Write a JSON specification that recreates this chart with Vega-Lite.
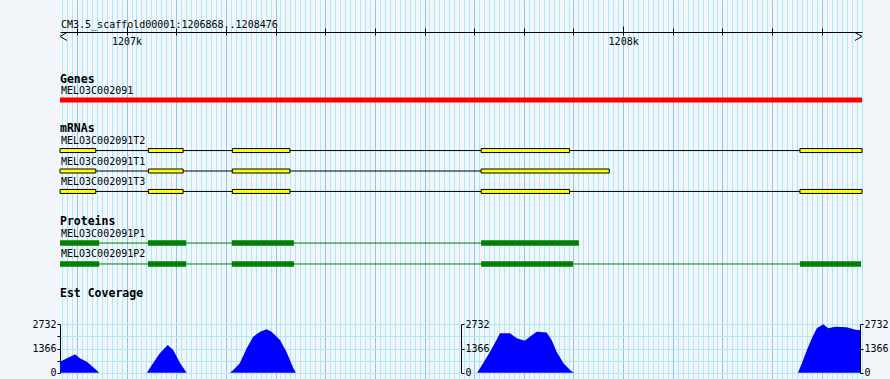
{
  "$schema": "https://vega.github.io/schema/vega-lite/v6.json",
  "width": 802,
  "height": 379,
  "autosize": "none",
  "padding": {"left": 60, "top": 0, "right": 28, "bottom": 0},
  "background": "#f2f5fa",
  "config": {
    "view": {"stroke": null},
    "axis": {"labelFont": "DejaVu Sans Mono", "labelFontSize": 10, "labelColor": "#000000", "title": null}
  },
  "datasets": {
    "gene": [{"name": "MELO3C002091", "start": 1206866, "end": 1208481, "lane": 97.5}],
    "transcripts": [
      {"name": "MELO3C002091T2", "start": 1206866, "end": 1208481, "lane": 149.5},
      {"name": "MELO3C002091T1", "start": 1206866, "end": 1207972, "lane": 170.5},
      {"name": "MELO3C002091T3", "start": 1206866, "end": 1208481, "lane": 191.5}
    ],
    "exons": [
      {"name": "MELO3C002091T2", "start": 1206866, "end": 1206938, "lane": 149.5},
      {"name": "MELO3C002091T2", "start": 1207044, "end": 1207114, "lane": 149.5},
      {"name": "MELO3C002091T2", "start": 1207213, "end": 1207329, "lane": 149.5},
      {"name": "MELO3C002091T2", "start": 1207714, "end": 1207892, "lane": 149.5},
      {"name": "MELO3C002091T2", "start": 1208356, "end": 1208481, "lane": 149.5},
      {"name": "MELO3C002091T1", "start": 1206866, "end": 1206938, "lane": 170.5},
      {"name": "MELO3C002091T1", "start": 1207044, "end": 1207114, "lane": 170.5},
      {"name": "MELO3C002091T1", "start": 1207213, "end": 1207329, "lane": 170.5},
      {"name": "MELO3C002091T1", "start": 1207714, "end": 1207972, "lane": 170.5},
      {"name": "MELO3C002091T3", "start": 1206866, "end": 1206938, "lane": 191.5},
      {"name": "MELO3C002091T3", "start": 1207044, "end": 1207114, "lane": 191.5},
      {"name": "MELO3C002091T3", "start": 1207213, "end": 1207329, "lane": 191.5},
      {"name": "MELO3C002091T3", "start": 1207714, "end": 1207892, "lane": 191.5},
      {"name": "MELO3C002091T3", "start": 1208356, "end": 1208481, "lane": 191.5}
    ],
    "proteins": [
      {"name": "MELO3C002091P1", "start": 1206866, "end": 1207714, "lane": 244.5},
      {"name": "MELO3C002091P2", "start": 1206866, "end": 1208479, "lane": 266}
    ],
    "cds": [
      {"name": "MELO3C002091P1", "start": 1206866, "end": 1206945, "lane": 244.5},
      {"name": "MELO3C002091P1", "start": 1207043, "end": 1207120, "lane": 244.5},
      {"name": "MELO3C002091P1", "start": 1207212, "end": 1207337, "lane": 244.5},
      {"name": "MELO3C002091P1", "start": 1207714, "end": 1207911, "lane": 244.5},
      {"name": "MELO3C002091P2", "start": 1206866, "end": 1206945, "lane": 266},
      {"name": "MELO3C002091P2", "start": 1207043, "end": 1207120, "lane": 266},
      {"name": "MELO3C002091P2", "start": 1207212, "end": 1207337, "lane": 266},
      {"name": "MELO3C002091P2", "start": 1207714, "end": 1207899, "lane": 266},
      {"name": "MELO3C002091P2", "start": 1208356, "end": 1208479, "lane": 266}
    ],
    "labels": [
      {"text": "CM3.5_scaffold00001:1206868..1208476", "pos": 1206866, "lane": 21, "kind": "plain"},
      {"text": "Genes", "pos": 1206866, "lane": 76.7, "kind": "section"},
      {"text": "MELO3C002091", "pos": 1206866, "lane": 88, "kind": "plain"},
      {"text": "mRNAs", "pos": 1206866, "lane": 127.7, "kind": "section"},
      {"text": "MELO3C002091T2", "pos": 1206866, "lane": 140, "kind": "plain"},
      {"text": "MELO3C002091T1", "pos": 1206866, "lane": 161, "kind": "plain"},
      {"text": "MELO3C002091T3", "pos": 1206866, "lane": 182.3, "kind": "plain"},
      {"text": "Proteins", "pos": 1206866, "lane": 223.3, "kind": "section"},
      {"text": "MELO3C002091P1", "pos": 1206866, "lane": 235, "kind": "plain"},
      {"text": "MELO3C002091P2", "pos": 1206866, "lane": 255.7, "kind": "plain"},
      {"text": "Est Coverage", "pos": 1206866, "lane": 296.7, "kind": "section"}
    ],
    "rulerEnds": [
      {"pos": 1206866, "dir": "left", "lane": 32.3},
      {"pos": 1208481, "dir": "right", "lane": 32.3}
    ],
    "coverage": [
      {"pos": 1206866, "cov": 620}, {"pos": 1206880, "cov": 810}, {"pos": 1206893, "cov": 980},
      {"pos": 1206896, "cov": 1040}, {"pos": 1206906, "cov": 810}, {"pos": 1206920, "cov": 620},
      {"pos": 1206933, "cov": 305}, {"pos": 1206945, "cov": 0},
      {"pos": 1207041, "cov": 0}, {"pos": 1207051, "cov": 435}, {"pos": 1207067, "cov": 1095},
      {"pos": 1207083, "cov": 1563}, {"pos": 1207094, "cov": 1280}, {"pos": 1207108, "cov": 530},
      {"pos": 1207121, "cov": 0},
      {"pos": 1207208, "cov": 0}, {"pos": 1207215, "cov": 150}, {"pos": 1207228, "cov": 530},
      {"pos": 1207242, "cov": 1377}, {"pos": 1207255, "cov": 2032}, {"pos": 1207269, "cov": 2314},
      {"pos": 1207282, "cov": 2450}, {"pos": 1207292, "cov": 2314}, {"pos": 1207309, "cov": 1846},
      {"pos": 1207322, "cov": 1185}, {"pos": 1207336, "cov": 250}, {"pos": 1207341, "cov": 0},
      {"pos": 1207706, "cov": 0}, {"pos": 1207718, "cov": 530}, {"pos": 1207732, "cov": 1185},
      {"pos": 1207745, "cov": 1846}, {"pos": 1207752, "cov": 2224}, {"pos": 1207772, "cov": 2224},
      {"pos": 1207786, "cov": 1941}, {"pos": 1207802, "cov": 1806}, {"pos": 1207812, "cov": 2032},
      {"pos": 1207826, "cov": 2314}, {"pos": 1207846, "cov": 2270}, {"pos": 1207856, "cov": 1846},
      {"pos": 1207866, "cov": 1185}, {"pos": 1207880, "cov": 530}, {"pos": 1207893, "cov": 150},
      {"pos": 1207901, "cov": 0},
      {"pos": 1208352, "cov": 0}, {"pos": 1208360, "cov": 530}, {"pos": 1208370, "cov": 1280},
      {"pos": 1208380, "cov": 1941}, {"pos": 1208390, "cov": 2506}, {"pos": 1208403, "cov": 2732},
      {"pos": 1208413, "cov": 2506}, {"pos": 1208427, "cov": 2597}, {"pos": 1208450, "cov": 2570},
      {"pos": 1208470, "cov": 2410}, {"pos": 1208477, "cov": 2410}
    ]
  },
  "resolve": {"scale": {"y": "independent"}, "axis": {"x": "independent", "y": "independent"}},
  "layer": [
    {
      "data": {"name": "gene"},
      "mark": {"type": "rule", "opacity": 0},
      "encoding": {
        "x": {"field": "start", "type": "quantitative",
          "scale": {"domain": [1206866, 1208481], "nice": false, "zero": false},
          "axis": {"orient": "bottom", "grid": true, "gridColor": "#aeeaf3", "gridOpacity": 1, "gridWidth": 1,
            "tickCount": 160, "labels": false, "ticks": false, "domain": false}}
      }
    },
    {
      "data": {"name": "gene"},
      "mark": {"type": "rule", "opacity": 0},
      "encoding": {
        "x": {"field": "start", "type": "quantitative",
          "scale": {"domain": [1206866, 1208481], "nice": false, "zero": false},
          "axis": {"orient": "bottom", "grid": true, "gridColor": "#8ec8ec", "gridOpacity": 1, "gridWidth": 1,
            "tickCount": 16, "labels": false, "ticks": false, "domain": false}}
      }
    },
    {
      "data": {"name": "coverage"},
      "mark": {"type": "area", "color": "#0000ff", "interpolate": "linear"},
      "encoding": {
        "x": {"field": "pos", "type": "quantitative",
          "scale": {"domain": [1206866, 1208481], "nice": false, "zero": false}, "axis": null},
        "y": {"field": "cov", "type": "quantitative",
          "scale": {"domain": [0, 2732], "range": [372.7, 324.3], "nice": false, "zero": true},
          "axis": {"orient": "left", "values": [0, 683, 1366, 2049, 2732],
            "labelExpr": "datum.value === 683 || datum.value === 2049 ? '' : datum.label",
            "format": "d", "grid": true, "gridColor": "#aeeaf3", "gridOpacity": 1,
            "tickSize": 3, "tickColor": "#000000", "domain": true, "domainColor": "#000000",
            "labelPadding": 1, "labelOverlap": false, "labelFlush": false, "labelBound": false}}
      }
    },
    {
      "data": {"name": "coverage"},
      "mark": {"type": "point", "opacity": 0},
      "encoding": {
        "x": {"field": "pos", "type": "quantitative",
          "scale": {"domain": [1206866, 1208481], "nice": false, "zero": false}, "axis": null},
        "y": {"field": "cov", "type": "quantitative",
          "scale": {"domain": [0, 2732], "range": [372.7, 324.3], "nice": false, "zero": true},
          "axis": {"orient": "right", "offset": -401, "values": [0, 1366, 2732], "format": "d", "grid": false,
            "tickSize": 3, "tickColor": "#000000", "domain": true, "domainColor": "#000000",
            "labelPadding": 1, "labelOverlap": false, "labelFlush": false, "labelBound": false}}
      }
    },
    {
      "data": {"name": "coverage"},
      "mark": {"type": "point", "opacity": 0},
      "encoding": {
        "x": {"field": "pos", "type": "quantitative",
          "scale": {"domain": [1206866, 1208481], "nice": false, "zero": false}, "axis": null},
        "y": {"field": "cov", "type": "quantitative",
          "scale": {"domain": [0, 2732], "range": [372.7, 324.3], "nice": false, "zero": true},
          "axis": {"orient": "right", "offset": -2, "values": [0, 1366, 2732], "format": "d", "grid": false,
            "tickSize": 3, "tickColor": "#000000", "domain": true, "domainColor": "#000000",
            "labelPadding": 1, "labelOverlap": false, "labelFlush": false, "labelBound": false}}
      }
    },
    {
      "data": {"name": "gene"},
      "mark": {"type": "rule", "opacity": 0},
      "encoding": {
        "x": {"field": "start", "type": "quantitative",
          "scale": {"domain": [1206866, 1208481], "nice": false, "zero": false},
          "axis": {"orient": "bottom", "offset": -347, "grid": false, "tickCount": 16,
            "domain": true, "domainColor": "#000000", "domainWidth": 1,
            "ticks": true, "tickColor": "#000000", "tickSize": 3, "tickWidth": 1,
            "labelExpr": "datum.value % 1000 === 0 ? format(datum.value / 1000, 'd') + 'k' : ''",
            "labelPadding": 1, "labelOverlap": false, "labelFlush": false, "labelBound": false}}
      }
    },
    {
      "data": {"name": "gene"},
      "mark": {"type": "rule", "opacity": 0},
      "encoding": {
        "x": {"field": "start", "type": "quantitative",
          "scale": {"domain": [1206866, 1208481], "nice": false, "zero": false},
          "axis": {"orient": "bottom", "offset": -347, "grid": false, "tickCount": 16,
            "domain": false, "labels": false,
            "ticks": true, "tickColor": "#000000", "tickSize": -4, "tickWidth": 1}}
      }
    },
    {
      "data": {"name": "gene"},
      "mark": {"type": "rule", "opacity": 0},
      "encoding": {
        "x": {"field": "start", "type": "quantitative",
          "scale": {"domain": [1206866, 1208481], "nice": false, "zero": false},
          "axis": {"orient": "bottom", "offset": -347, "grid": false, "values": [1207000, 1208000],
            "domain": false, "labels": false,
            "ticks": true, "tickColor": "#000000", "tickSize": -6, "tickWidth": 1}}
      }
    },
    {
      "layer": [
        {
          "data": {"name": "gene"},
          "mark": {"type": "bar", "color": "#ff0000", "size": 5},
          "encoding": {
            "x": {"field": "start", "type": "quantitative", "scale": {"domain": [1206866, 1208481], "nice": false, "zero": false}, "axis": null},
            "x2": {"field": "end"},
            "y": {"field": "lane", "type": "quantitative", "scale": {"domain": [0, 379], "reverse": true, "nice": false, "zero": false}, "axis": null}
          }
        },
        {
          "data": {"name": "transcripts"},
          "mark": {"type": "rule", "color": "#000000", "strokeWidth": 1},
          "encoding": {
            "x": {"field": "start", "type": "quantitative", "scale": {"domain": [1206866, 1208481], "nice": false, "zero": false}, "axis": null},
            "x2": {"field": "end"},
            "y": {"field": "lane", "type": "quantitative", "scale": {"domain": [0, 379], "reverse": true, "nice": false, "zero": false}, "axis": null}
          }
        },
        {
          "data": {"name": "exons"},
          "mark": {"type": "bar", "color": "#ffff00", "stroke": "#000000", "strokeWidth": 1, "size": 4},
          "encoding": {
            "x": {"field": "start", "type": "quantitative", "scale": {"domain": [1206866, 1208481], "nice": false, "zero": false}, "axis": null},
            "x2": {"field": "end"},
            "y": {"field": "lane", "type": "quantitative", "scale": {"domain": [0, 379], "reverse": true, "nice": false, "zero": false}, "axis": null}
          }
        },
        {
          "data": {"name": "proteins"},
          "mark": {"type": "rule", "color": "#008000", "strokeWidth": 1},
          "encoding": {
            "x": {"field": "start", "type": "quantitative", "scale": {"domain": [1206866, 1208481], "nice": false, "zero": false}, "axis": null},
            "x2": {"field": "end"},
            "y": {"field": "lane", "type": "quantitative", "scale": {"domain": [0, 379], "reverse": true, "nice": false, "zero": false}, "axis": null}
          }
        },
        {
          "data": {"name": "cds"},
          "mark": {"type": "bar", "color": "#008000", "size": 5.5},
          "encoding": {
            "x": {"field": "start", "type": "quantitative", "scale": {"domain": [1206866, 1208481], "nice": false, "zero": false}, "axis": null},
            "x2": {"field": "end"},
            "y": {"field": "lane", "type": "quantitative", "scale": {"domain": [0, 379], "reverse": true, "nice": false, "zero": false}, "axis": null}
          }
        },
        {
          "data": {"name": "rulerEnds"},
          "mark": {"type": "point", "filled": false, "color": "#000000", "strokeWidth": 1, "size": 64, "opacity": 1},
          "encoding": {
            "x": {"field": "pos", "type": "quantitative", "scale": {"domain": [1206866, 1208481], "nice": false, "zero": false}, "axis": null},
            "y": {"field": "lane", "type": "quantitative", "scale": {"domain": [0, 379], "reverse": true, "nice": false, "zero": false}, "axis": null},
            "shape": {"field": "dir", "type": "nominal", "legend": null,
              "scale": {"domain": ["left", "right"], "range": ["M1.75,-1L0,0L1.75,1", "M-1.75,-1L0,0L-1.75,1"]}}
          }
        },
        {
          "data": {"name": "labels"},
          "transform": [{"filter": "datum.kind === 'plain'"}],
          "mark": {"type": "text", "align": "left", "baseline": "middle", "font": "DejaVu Sans Mono", "fontSize": 10, "color": "#000000", "dx": 1},
          "encoding": {
            "x": {"field": "pos", "type": "quantitative", "scale": {"domain": [1206866, 1208481], "nice": false, "zero": false}, "axis": null},
            "y": {"field": "lane", "type": "quantitative", "scale": {"domain": [0, 379], "reverse": true, "nice": false, "zero": false}, "axis": null},
            "text": {"field": "text"}
          }
        },
        {
          "data": {"name": "labels"},
          "transform": [{"filter": "datum.kind === 'section'"}],
          "mark": {"type": "text", "align": "left", "baseline": "middle", "font": "DejaVu Sans Mono", "fontSize": 11.5, "fontWeight": "bold", "color": "#000000", "dx": 0},
          "encoding": {
            "x": {"field": "pos", "type": "quantitative", "scale": {"domain": [1206866, 1208481], "nice": false, "zero": false}, "axis": null},
            "y": {"field": "lane", "type": "quantitative", "scale": {"domain": [0, 379], "reverse": true, "nice": false, "zero": false}, "axis": null},
            "text": {"field": "text"}
          }
        }
      ]
    }
  ]
}
